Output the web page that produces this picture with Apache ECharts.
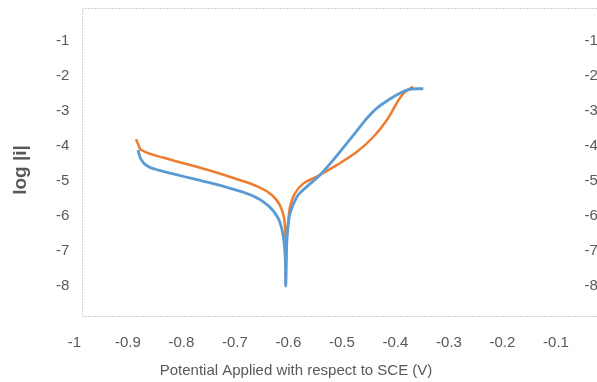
<!DOCTYPE html>
<html>
<head>
<meta charset="utf-8">
<script src="https://cdn.jsdelivr.net/npm/echarts@6/dist/echarts.min.js"></script>
<style>
  html, body { margin: 0; padding: 0; background: #fff; }
  #chart { width: 597px; height: 382px; }
</style>
</head>
<body>
<div id="chart"></div>
<script>
// Tafel polarisation curves: potential (V vs SCE) against log |i|
const potentialA = [-0.885, -0.880, -0.877, -0.868, -0.856, -0.835, -0.812, -0.780, -0.750, -0.700,
  -0.656, -0.631, -0.616, -0.608, -0.606, -0.605, -0.605, -0.604, -0.603, -0.600,
  -0.597, -0.588, -0.572, -0.547, -0.510, -0.472, -0.441, -0.416, -0.398, -0.385, -0.367];
const logIA = [-3.81, -3.98, -4.09, -4.17, -4.24, -4.33, -4.43, -4.56, -4.69, -4.93,
  -5.17, -5.40, -5.69, -6.07, -6.50, -7.20, -7.95, -7.20, -6.60, -6.10,
  -5.74, -5.36, -5.07, -4.88, -4.55, -4.17, -3.74, -3.26, -2.79, -2.50, -2.31];

const potentialB = [-0.881, -0.878, -0.874, -0.868, -0.858, -0.843, -0.781, -0.718, -0.669, -0.638,
  -0.619, -0.610, -0.606, -0.605, -0.604, -0.602, -0.597, -0.584, -0.566, -0.541,
  -0.516, -0.491, -0.466, -0.456, -0.446, -0.436, -0.423, -0.398, -0.379, -0.360, -0.348];
const logIB = [-4.12, -4.30, -4.42, -4.53, -4.62, -4.69, -4.93, -5.17, -5.41, -5.70,
  -6.07, -6.55, -7.20, -8.00, -7.20, -6.50, -5.93, -5.45, -5.17, -4.83,
  -4.40, -3.93, -3.45, -3.26, -3.09, -2.94, -2.79, -2.55, -2.41, -2.37, -2.37];

const xTicks = [-1, -0.9, -0.8, -0.7, -0.6, -0.5, -0.4, -0.3, -0.2, -0.1];
const yTicks = [-1, -2, -3, -4, -5, -6, -7, -8];

const pair = (xs, ys) => xs.map((x, i) => [x, ys[i]]);

const labelFont = '"Liberation Sans Narrow", "Liberation Sans", sans-serif';
const labelColor = '#595959';

const chart = echarts.init(document.getElementById('chart'), null, { renderer: 'canvas' });

chart.setOption({
  animation: false,
  backgroundColor: '#ffffff',
  // the value range runs a little past the right edge of the canvas
  grid: {
    left: 74.4, width: 535.1, top: 5.7, height: 315.4,
    containLabel: false, outerBoundsMode: 'none'
  },
  xAxis: {
    type: 'value', min: -1, max: 0, interval: 0.1,
    axisLine: { show: false }, axisTick: { show: false }, splitLine: { show: false },
    axisLabel: {
      customValues: xTicks,
      formatter: v => String(Math.round(v * 10) / 10),
      margin: 14, fontSize: 15, color: labelColor, fontFamily: labelFont
    }
  },
  yAxis: [
    {
      type: 'value', min: -9, max: 0, interval: 1,
      axisLine: { show: false }, axisTick: { show: false }, splitLine: { show: false },
      axisLabel: { customValues: yTicks, margin: 5, fontSize: 15, color: labelColor, fontFamily: labelFont }
    },
    {
      type: 'value', min: -9, max: 0, interval: 1, position: 'right', offset: -26,
      axisLine: { show: false }, axisTick: { show: false }, splitLine: { show: false },
      axisLabel: { customValues: yTicks, margin: 1, fontSize: 15, color: labelColor, fontFamily: labelFont }
    }
  ],
  series: [
    {
      name: 'Sample A', type: 'line', data: pair(potentialA, logIA),
      showSymbol: false, smooth: 0.35, clip: false,
      lineStyle: { color: '#ED7D31', width: 2.5 }, z: 2
    },
    {
      name: 'Sample B', type: 'line', data: pair(potentialB, logIB),
      showSymbol: false, smooth: 0.35, clip: false,
      lineStyle: { color: '#5B9BD5', width: 2.8 }, z: 3
    }
  ],
  graphic: [
    {
      type: 'polyline', silent: true,
      shape: { points: [[597, 8.5], [82.5, 8.5], [82.5, 316.5], [597, 316.5]] },
      style: { stroke: '#D0D0D0', lineWidth: 1, lineDash: [2, 1], fill: null }
    },
    {
      type: 'text', x: 21, y: 170, rotation: Math.PI / 2,
      style: {
        text: 'log |i|', font: 'bold 19px "Liberation Sans", sans-serif', fill: '#595959',
        align: 'center', verticalAlign: 'middle'
      }
    },
    {
      type: 'text', x: 296, y: 371,
      style: {
        text: 'Potential Applied with respect to SCE (V)', font: '15px ' + labelFont, fill: '#595959',
        align: 'center', verticalAlign: 'middle'
      }
    }
  ]
});
</script>
</body>
</html>
